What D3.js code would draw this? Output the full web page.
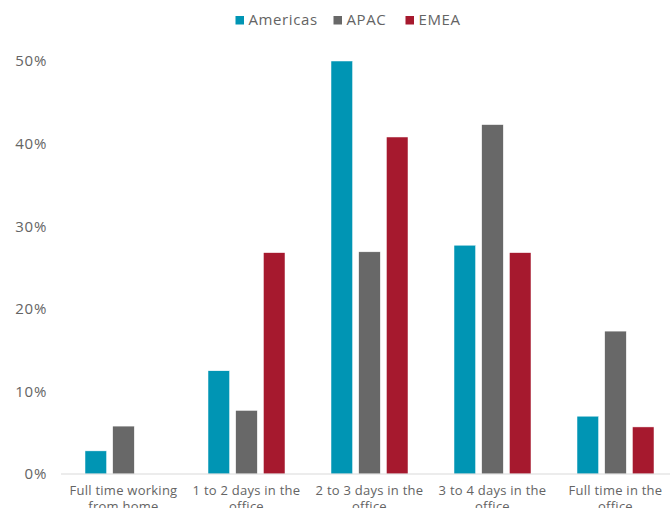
<!DOCTYPE html>
<html>
<head>
<meta charset="utf-8">
<script src="https://cdn.jsdelivr.net/npm/d3@7"></script>
<style>
  body { margin: 0; background: #fff; }
  svg { display: block; font-family: "Open Sans", sans-serif; font-weight: 400; }
</style>
</head>
<body>
<svg id="chart" width="670" height="508"></svg>
<script>
// Office attendance by region
const categories = [
  ["Full time working", "from home"],
  ["1 to 2 days in the", "office"],
  ["2 to 3 days in the", "office"],
  ["3 to 4 days in the", "office"],
  ["Full time in the", "office"]
];
const seriesNames = ["Americas", "APAC", "EMEA"];
const americas = [2.8, 12.5, 50.0, 27.7, 7.0];
const apac     = [5.8, 7.7, 26.9, 42.3, 17.3];
const emea     = [0.0, 26.8, 40.8, 26.8, 5.7];
const seriesValues = [americas, apac, emea];
const colors = ["#0095b4", "#686868", "#a6192e"];
const yTicks = [0, 10, 20, 30, 40, 50];

const textColor = "#646464";
const svg = d3.select("#chart");
const plot = { left: 62, right: 677, top: 61, bottom: 474 };

const x0 = d3.scaleBand()
  .domain(d3.range(categories.length))
  .range([plot.left, plot.right])
  .paddingInner(0.374)
  .paddingOuter(0.187);

const x1 = d3.scaleBand()
  .domain(d3.range(seriesNames.length))
  .range([0, x0.bandwidth()])
  .paddingInner(0.22);

const y = d3.scaleLinear().domain([0, 50]).range([plot.bottom, plot.top]);

// y axis labels
const yAxis = d3.axisLeft(y).tickValues(yTicks).tickFormat(d => d + "%").tickSize(0).tickPadding(0);
const gy = svg.append("g").attr("transform", "translate(47,0)").call(yAxis);
gy.select(".domain").remove();
gy.selectAll("text")
  .attr("fill", textColor)
  .style("font-size", "15px")
  .style("letter-spacing", "0.7px")
  .style("font-family", "'Open Sans', sans-serif");

// bars
const groups = svg.append("g").selectAll("g")
  .data(categories.map((c, i) => i))
  .join("g")
  .attr("transform", i => `translate(${x0(i)},0)`);

groups.selectAll("rect")
  .data(i => seriesValues.map((vals, s) => ({ s, v: vals[i] })))
  .join("rect")
  .attr("x", d => x1(d.s))
  .attr("width", x1.bandwidth())
  .attr("y", d => y(d.v))
  .attr("height", d => y(0) - y(d.v))
  .attr("fill", d => colors[d.s])
  .attr("stroke", "#fff")
  .attr("stroke-width", 0.5);

// category axis
const xAxis = d3.axisBottom(x0).tickSize(0).tickFormat("");
const gx = svg.append("g").attr("transform", `translate(0,${plot.bottom})`).call(xAxis);
gx.select(".domain").attr("stroke", "#d9d9d9").attr("stroke-width", 1.2)
  .attr("d", `M${plot.left - 1},0H${plot.right}`);

const labels = svg.append("g").selectAll("text")
  .data(categories)
  .join("text")
  .attr("x", (d, i) => x0(i) + x0.bandwidth() / 2)
  .attr("y", 495)
  .attr("text-anchor", "middle")
  .attr("fill", textColor)
  .style("font-size", "13px")
  .style("letter-spacing", "0.25px");
labels.selectAll("tspan")
  .data(d => d)
  .join("tspan")
  .attr("x", function () { return d3.select(this.parentNode).attr("x"); })
  .attr("dy", (d, i) => i === 0 ? 0 : 16)
  .text(d => d);

// legend
const legendItems = [
  { name: seriesNames[0], x: 235.5 },
  { name: seriesNames[1], x: 333.5 },
  { name: seriesNames[2], x: 405.5 }
];
const legend = svg.append("g").selectAll("g")
  .data(legendItems)
  .join("g")
  .attr("transform", d => `translate(${d.x},0)`);
legend.append("rect")
  .attr("x", 0).attr("y", 16)
  .attr("width", 8.5).attr("height", 8.5)
  .attr("fill", (d, i) => colors[i]);
legend.append("text")
  .attr("x", 13).attr("y", 25)
  .attr("fill", textColor)
  .style("font-size", "15px")
  .style("letter-spacing", "0.6px")
  .text(d => d.name);
</script>
</body>
</html>
